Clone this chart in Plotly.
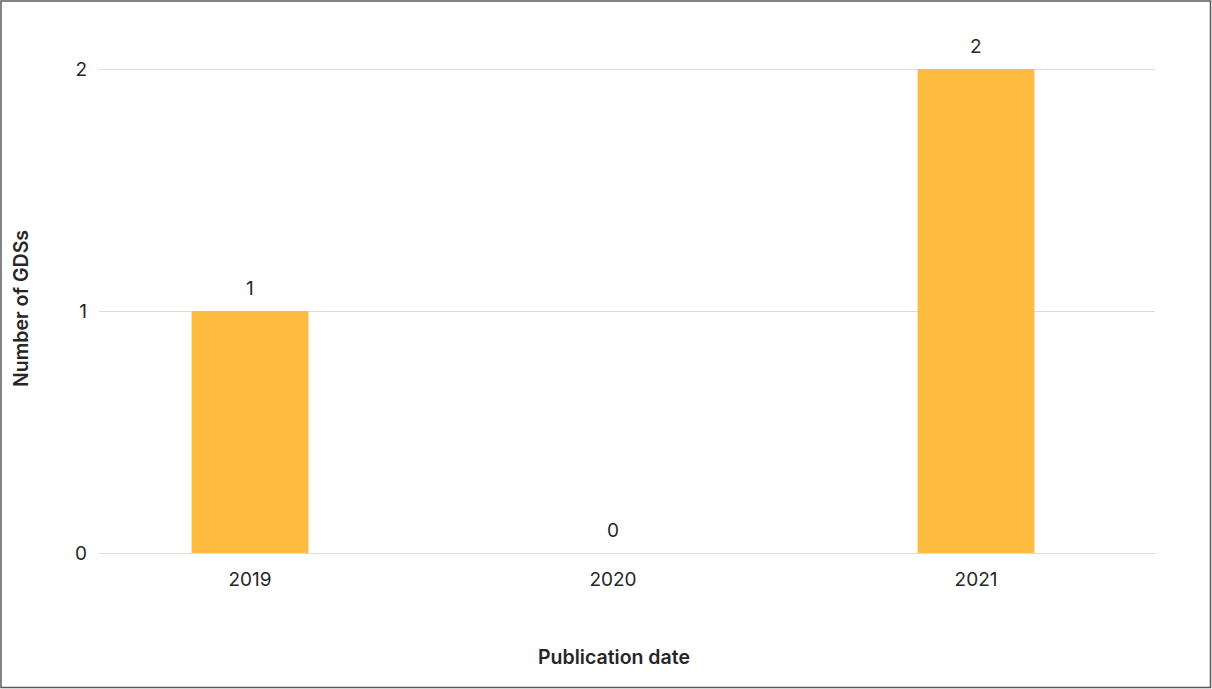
import plotly.graph_objects as go

years = ["2019", "2020", "2021"]
counts = [1, 0, 2]
y_ticks = [0, 1, 2]

FONT = "Inter, Roboto, Arial, sans-serif"
TXT = "#262626"
TICK_SIZE = 19
TITLE_SIZE = 19.5

fig = go.Figure()
fig.add_trace(go.Bar(
    x=list(range(len(years))), y=counts,
    marker=dict(color="#FDBB40", line=dict(width=0)),
    width=0.322,
    hoverinfo="skip",
))

for i, c in enumerate(counts):
    fig.add_annotation(
        x=i, y=c, text=str(c), showarrow=False,
        xanchor="center", yanchor="middle", yshift=23,
        font=dict(family=FONT, size=TICK_SIZE, color=TXT),
    )

W, H = 1212, 689
L, R, T, B = 99, 57, 64, 136
pw, ph = W - L - R, H - T - B
px_per_unit = 242.0  # 0 -> y=553, 2 -> y=69

# x-axis title, centred under the middle category as in the original
fig.add_annotation(
    xref="paper", yref="paper",
    x=(613.5 - L) / pw, y=(H - B - 657) / ph,
    text="Publication date", showarrow=False,
    xanchor="center", yanchor="middle",
    font=dict(family=FONT, size=TITLE_SIZE, color=TXT, weight=600),
)

fig.update_layout(
    width=W, height=H,
    margin=dict(l=L, r=R, t=T, b=B, pad=0),
    paper_bgcolor="white", plot_bgcolor="white",
    showlegend=False,
    font=dict(family=FONT, size=TICK_SIZE, color=TXT),
    xaxis=dict(
        range=[-0.416, 2.493],
        tickmode="array", tickvals=list(range(len(years))), ticktext=years,
        showgrid=False, zeroline=False, showline=False, ticks="",
        ticklabelstandoff=13,
        tickfont=dict(family=FONT, size=TICK_SIZE, color=TXT),
        fixedrange=True,
    ),
    yaxis=dict(
        range=[0, ph / px_per_unit], tickmode="array", tickvals=y_ticks,
        showgrid=True, gridcolor="#DCDCDC", gridwidth=1,
        zeroline=True, zerolinecolor="#DCDCDC", zerolinewidth=1,
        showline=False, ticks="",
        ticklabelstandoff=11,
        tickfont=dict(family=FONT, size=TICK_SIZE, color=TXT),
        title=dict(text="Number of GDSs", standoff=41,
                   font=dict(family=FONT, size=TITLE_SIZE, color=TXT, weight=600)),
        fixedrange=True,
    ),
    shapes=[dict(
        type="rect", xref="paper", yref="paper",
        x0=(1 - L) / pw, x1=(W - 1.5 - L) / pw,
        y0=(H - B - (H - 1.5)) / ph, y1=(H - B - 1) / ph,
        line=dict(color="#5A5A5A", width=1.5), fillcolor="rgba(0,0,0,0)",
        layer="above",
    )],
)

fig.write_html("out.html")
